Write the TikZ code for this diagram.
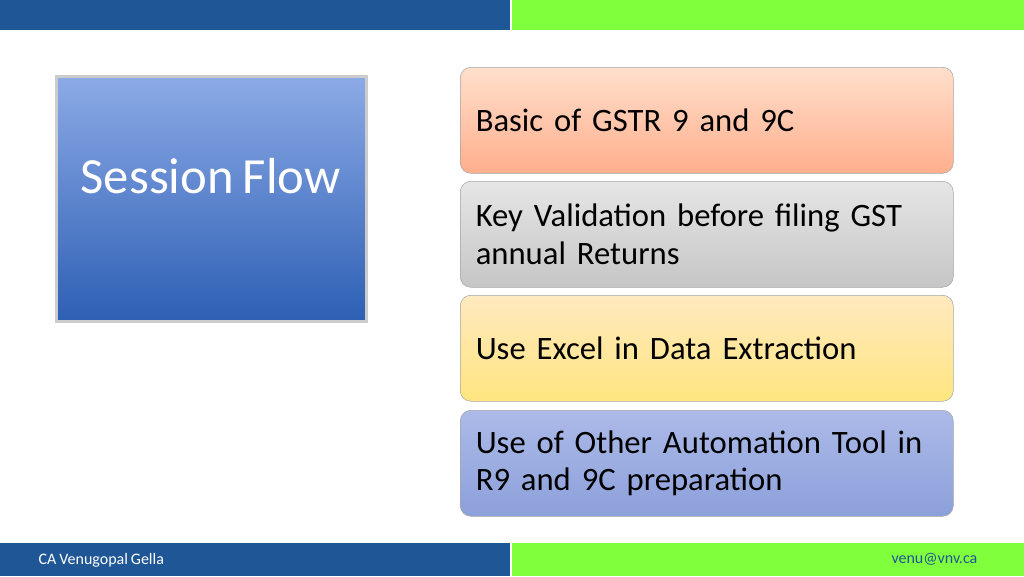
\documentclass[tikz,border=0pt]{standalone}
\usepackage{fontspec}
\setmainfont[WordSpace=0.8]{Carlito}
\usetikzlibrary{positioning}
\definecolor{barblue}{RGB}{31, 86, 150}
\definecolor{bargreen}{RGB}{128, 255, 60}
\definecolor{titletop}{RGB}{140, 170, 230}
\definecolor{titlebot}{RGB}{45, 95, 180}
\definecolor{autotop}{RGB}{172, 186, 232}
\definecolor{autobot}{RGB}{140, 160, 218}

\begin{document}
\begin{tikzpicture}[
    x=0.75pt, y=-0.75pt,
    bar/.style={draw=none, minimum height=30*0.75pt, inner sep=0pt, anchor=north west},
    topic/.style={rectangle, draw=gray!70, rounded corners=8pt, minimum width=493*0.75pt, minimum height=106*0.75pt,
        anchor=north west, align=left, text width=470*0.75pt, inner sep=0pt, font=\fontsize{24.5}{28}\selectfont},
    foot/.style={font=\fontsize{12}{14}\selectfont, text=white}
]
\useasboundingbox (0,0) rectangle (1024,576);

% Bars
\node[bar, fill=barblue, minimum width=510*0.75pt] (topblue) at (0,0) {};
\node[bar, fill=bargreen, minimum width=512*0.75pt] (topgreen) at (512,0) {};
\node[bar, fill=barblue, minimum width=510*0.75pt, minimum height=33*0.75pt] (botblue) at (0,543) {};
\node[bar, fill=bargreen, minimum width=512*0.75pt, minimum height=33*0.75pt] (botgreen) at (512,543) {};

% Title box
\node[rectangle, draw=gray!40, line width=2pt, top color=titletop, bottom color=titlebot,
    minimum width=310*0.75pt, minimum height=245*0.75pt, anchor=north west] (title) at (55,75) {};
\node[anchor=west, text=white, font=\fontsize{38}{44}\selectfont] (titletext) at (76,176) {Session Flow};

% Topics
\node[topic, top color=red!25!orange!20, bottom color=red!40!orange!45] (basic) at (460,67) {\hspace*{3pt}Basic of GSTR 9 and 9C};
\node[topic, top color=gray!20, bottom color=gray!45] (valid) at (460,181) {\hspace*{3pt}Key Validation before filing GST\\\hspace*{3pt}annual Returns};
\node[topic, top color=yellow!30!orange!25, bottom color=yellow!60!orange!50] (excel) at (460,295) {\hspace*{3pt}Use Excel in Data Extraction};
\node[topic, top color=autotop, bottom color=autobot] (auto) at (460,410) {\hspace*{3pt}Use of Other Automation Tool in\\\hspace*{3pt}R9 and 9C preparation};

% Footer
\node[foot, anchor=west] (author) at (34,560) {CA Venugopal Gella};
\node[foot, anchor=east, text=barblue] (mail) at (982,559) {venu@vnv.ca};
\end{tikzpicture}
\end{document}
